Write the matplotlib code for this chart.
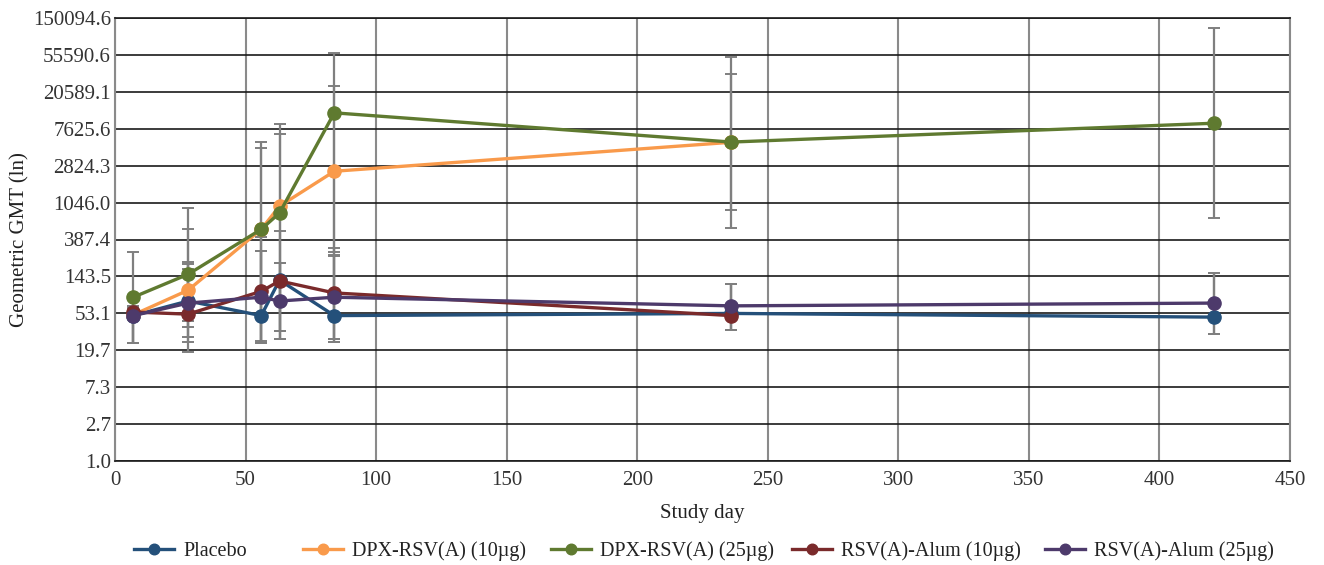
import matplotlib
matplotlib.use("Agg")
import matplotlib.pyplot as plt
import numpy as np

plt.rcParams['font.family'] = ['Liberation Serif', 'DejaVu Serif']

days_full = [7, 28, 56, 63, 84, 236, 421]
days_short = [7, 28, 56, 63, 84, 236]

series = ["Placebo", "DPX-RSV(A) (10µg)", "DPX-RSV(A) (25µg)", "RSV(A)-Alum (10µg)", "RSV(A)-Alum (25µg)"]

placebo = [50, 74, 50, 130, 50, 53, 48]
placebo_lo = [24, 24.5, 24, 26.6, 24.5, 34, 30.5]
placebo_hi = [62, 175, 284, 206, 248, 117, 157]

dpx10 = [51, 99, 510, 950, 2430, 5300]
dpx10_lo = [24, 19, 25, 33, 26.6, 857]
dpx10_hi = [62, 512, 4540, 6640, 24100, 33200]

dpx25 = [82, 152, 510, 790, 11700, 5330, 8850]
dpx25_lo = [65, 43, 24, 26.6, 276, 528, 690]
dpx25_hi = [276, 900, 5330, 8680, 58500, 52600, 115000]

alum10 = [55, 52, 96, 127, 92, 50]
alum10_lo = [24, 37, 24, 26.6, 24.5, 33.9]
alum10_hi = [65, 200, 415, 487, 308, 117]

alum25 = [50, 70, 82, 74, 82, 65, 70]
alum25_lo = [24, 28, 24, 33, 26.6, 33.9, 30.5]
alum25_hi = [65, 211, 284, 206, 256, 117, 157]

colors = ["#24507a", "#f99a4b", "#5f7a30", "#7a2a2b", "#4d3a6b"]

ytick_exps = list(range(0, 13))
ytick_labels = ["1.0", "2.7", "7.3", "19.7", "53.1", "143.5", "387.4", "1046.0",
                "2824.3", "7625.6", "20589.1", "55590.6", "150094.6"]
xticks = [0, 50, 100, 150, 200, 250, 300, 350, 400, 450]

W, H = 1324, 565
fig = plt.figure(figsize=(W / 100, H / 100), dpi=100)
ax = fig.add_axes([115 / W, 1 - 461 / H, (1290 - 115) / W, (461 - 18) / H])
ax.set_yscale('log', base=2.7)

data = [
    (days_full, placebo, placebo_lo, placebo_hi),
    (days_short, dpx10, dpx10_lo, dpx10_hi),
    (days_full, dpx25, dpx25_lo, dpx25_hi),
    (days_short, alum10, alum10_lo, alum10_hi),
    (days_full, alum25, alum25_lo, alum25_hi),
]

for (x, y, lo, hi) in data:
    y = np.array(y, float)
    yerr = np.vstack([y - np.array(lo, float), np.array(hi, float) - y])
    ax.errorbar(x, y, yerr=yerr, fmt='none', ecolor='#7f7f7f', elinewidth=1.6,
                capsize=4, capthick=1.4, zorder=3)

handles = []
for (x, y, lo, hi), c, name in zip(data, colors, series):
    h, = ax.plot(x, y, '-o', color=c, lw=2.4, markersize=9.5, label=name, zorder=4)
    handles.append(h)

ax.set_xlim(0, 450)
ax.set_ylim(1, 2.7 ** 12)
ax.set_yticks([2.7 ** k for k in ytick_exps])
ax.set_yticklabels(ytick_labels)
ax.yaxis.set_minor_locator(matplotlib.ticker.NullLocator())
ax.set_xticks(xticks)
ax.set_xticklabels([str(t) for t in xticks])
ax.tick_params(axis='both', length=0, labelsize=15, colors='#333333')
ax.tick_params(axis='y', pad=3)
ax.tick_params(axis='x', pad=7)

ax.grid(axis='y', color='#1a1a1a', lw=1.2, zorder=1)
ax.grid(axis='x', color='#8a8a8a', lw=1.5, zorder=1)
ax.set_axisbelow(True)
for s in ['left', 'right']:
    ax.spines[s].set_color('#8a8a8a')
    ax.spines[s].set_linewidth(1.5)
for s in ['top', 'bottom']:
    ax.spines[s].set_color('#1a1a1a')
    ax.spines[s].set_linewidth(1.2)

ax.set_xlabel("Study day", fontsize=15, color='#222222', labelpad=10)
ax.set_ylabel("Geometric GMT (ln)", fontsize=15, color='#222222')
ax.yaxis.set_label_coords((29 - 115) / 1175, 0.5)

text_starts = [184, 353, 601, 842, 1095]
for h, name, xs in zip(handles, series, text_starts):
    fig.legend(handles=[h], labels=[name], loc='center left',
               bbox_to_anchor=((xs - 50) / W, 1 - 551 / H),
               frameon=False, fontsize=14.5, handlelength=2.0, handletextpad=0.45,
               borderpad=0, borderaxespad=0, markerscale=0.8, labelcolor='#222222')

fig.savefig("out.png", dpi=100)
